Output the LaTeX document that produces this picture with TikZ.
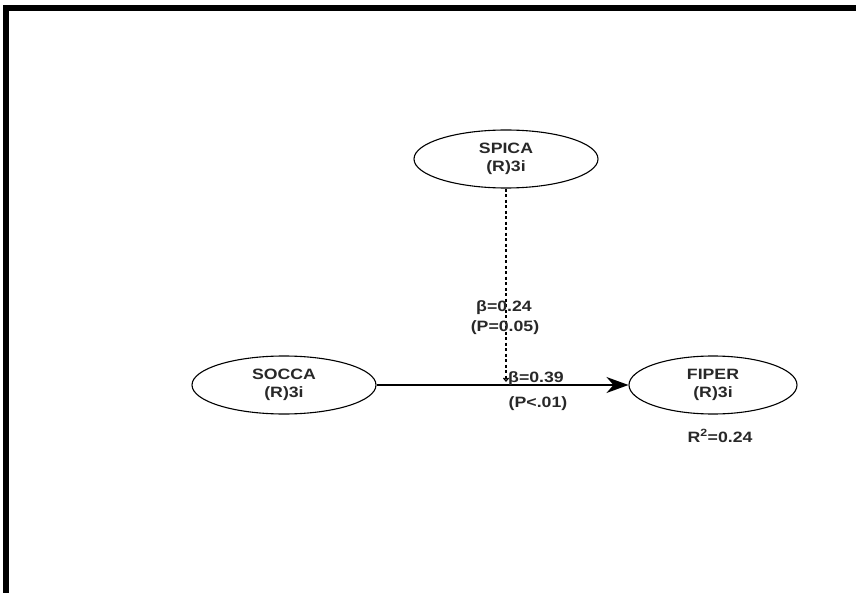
\documentclass[tikz,border=0pt]{standalone}
\usepackage{fontspec}
\setmainfont[FakeStretch=1.18]{Liberation Sans}
\usetikzlibrary{arrows.meta, shapes.geometric, positioning, calc}
\definecolor{pathtext}{RGB}{40,40,40}

\begin{document}
\begin{tikzpicture}[x=1pt,y=-1pt,
	construct/.style={draw,line width=1.1pt,ellipse,minimum width=184pt,minimum height=58pt,inner sep=0pt,align=center,text=pathtext,font=\bfseries\fontsize{15}{18.5}\selectfont},
	coef/.style={inner sep=0pt,text=pathtext,font=\bfseries\fontsize{15}{18}\selectfont}]
	\useasboundingbox (0,0) rectangle (856,593);
	\draw[line width=6pt] (6,593) -- (6,8) -- (856,8);
	% constructs
	\node[construct] (spica) at (506,159) {SPICA\\(R)3i};
	\node[construct] (socca) at (284,385) {SOCCA\\(R)3i};
	\node[construct,minimum width=168pt] (fiper) at (713,385) {FIPER\\(R)3i};
	\coordinate (mod) at (spica.south |- socca.east);
	% paths
	\draw[line width=1.3pt,-{Stealth[length=22pt,width=16pt,inset=7pt]}] (socca.east) -- (fiper.west);
	\draw[line width=1.3pt,dash pattern=on 3pt off 2.5pt,-{Straight Barb[length=3pt,width=5pt]}] (spica.south) -- ($(mod)+(0,-3)$);
	% coefficients
	\node[coef] (b1) at (504,308) {β=0.24};
	\node[coef] (p1) at (505,328) {(P=0.05)};
	\node[coef] (b2) at (536,379) {β=0.39};
	\node[coef] (p2) at (538,404) {(P<.01)};
	\node[coef] (r2) at (720,436) {R\textsuperscript{2}=0.24};
\end{tikzpicture}
\end{document}
